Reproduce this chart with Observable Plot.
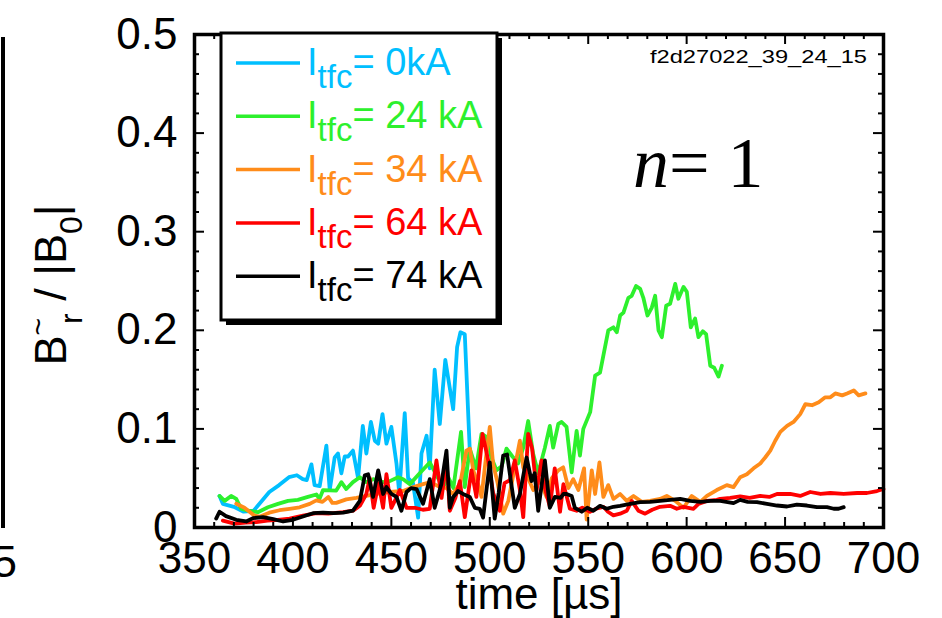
<!DOCTYPE html>
<html><head><meta charset="utf-8">
<script src="https://cdn.jsdelivr.net/npm/d3@7"></script>
<script src="https://cdn.jsdelivr.net/npm/@observablehq/plot@0.6"></script>
<style>body{margin:0;background:#fff;} svg{display:block}</style>
</head><body><div id="chart"></div>
<script>
// ---- data (time in µs, value = B~r/|B0|) ----
const xTicks = [350,400,450,500,550,600,650,700];
const yTicks = [0,0.1,0.2,0.3,0.4,0.5];
const seriesLabels = ["= 0kA","= 24 kA","= 34 kA","= 64 kA","= 74 kA"];
const seriesColors = ["#00bfff","#2df02d","#ff8c1a","#ff0000","#000000"];

const s0kA = [[362.7,.032],[364.4,.024],[370,.021],[375,.016],[380,.017],[383,.024],[388,.036],[393,.043],[398,.051],[402,.053],[405,.049],[407,.048],[409.4,.064],[411,.043],[413.6,.042],[417,.083],[418.7,.038],[421.2,.071],[422.9,.075],[424.6,.055],[426.3,.072],[428,.072],[430.5,.078],[433.1,.050],[435.5,.103],[437.3,.075],[439.6,.107],[441.6,.088],[443.3,.085],[445.5,.115],[447.5,.085],[450,.102],[452.6,.065],[454,.035],[456.8,.116],[458.5,.050],[461,.045],[463.6,.010],[465.3,.075],[467.9,.093],[469.5,.060],[472,.160],[474.6,.105],[477.4,.170],[481.4,.120],[483.4,.183],[485.1,.198],[487.3,.196],[489.8,.080]];

const s24kA = [[362.7,.032],[365.3,.027],[368.6,.032],[371.2,.029],[373.7,.019],[377.1,.017],[382.2,.0155],[387.3,.0205],[392.4,.024],[397.5,.027],[402.5,.028],[407.6,.031],[411.9,.0335],[413.5,.029],[415.3,.038],[422,.0375],[424.6,.046],[427.1,.039],[430.5,.046],[434,.051],[437.3,.046],[440.7,.049],[445.8,.046],[449.2,.047],[453.4,.051],[456,.049],[459.4,.044],[464.4,.055],[469.5,.066],[472.9,.053],[476.3,.041],[478.9,.051],[481.5,.040],[485.4,.097],[487.3,.041],[489.8,.080],[493,.060],[495.8,.095],[498.3,.092],[501,.070],[503.4,.058],[506,.062],[508.5,.080],[511.5,.072],[514.4,.065],[517,.081],[519.5,.108],[522,.075],[524.6,.055],[528,.081],[530.5,.103],[532.2,.081],[534.8,.105],[536.5,.107],[539,.102],[541.6,.056],[544.1,.098],[545.8,.073],[547.5,.100],[551,.117],[553.5,.154],[556,.157],[560.2,.200],[562.8,.203],[564.5,.198],[566.2,.215],[567.9,.218],[570.4,.233],[572.1,.235],[574.3,.245],[576.4,.242],[578,.233],[580.1,.215],[582.3,.223],[584,.235],[585.7,.200],[587.4,.193],[589.6,.225],[591.6,.227],[594.2,.247],[595.8,.232],[598.4,.244],[600.1,.239],[602.1,.203],[604.3,.212],[606,.193],[608.2,.199],[609.9,.196],[612,.164],[614,.162],[616.2,.153],[617.9,.164]];

const s34kA = [[371.2,.024],[375.4,.020],[380.5,.012],[383,.011],[388,.015],[393.2,.0175],[398.3,.019],[403.4,.0205],[408.5,.024],[411.9,.0275],[415,.026],[418,.031],[420,.025],[422,.025],[427.1,.0285],[432.2,.030],[437.3,.032],[442.4,.034],[449.2,.036],[456,.037],[461.1,.041],[466.1,.044],[470,.046],[474.6,.041],[478,.040],[481.4,.034],[485,.045],[488.1,.078],[489.9,.080],[491.6,.058],[494.1,.044],[495.8,.031],[498,.070],[500,.102],[501.7,.064],[504,.045],[506.8,.014],[509.4,.027],[512.7,.061],[515.3,.088],[517,.061],[519.5,.050],[522.1,.038],[525.5,.048],[528.8,.031],[531.5,.050],[534.8,.058],[537.3,.061],[539.9,.040],[542.4,.049],[545,.038],[547.9,.060],[549.2,.008],[551.8,.058],[553.5,.034],[555.7,.066],[557.7,.031],[560.2,.043],[562.8,.029],[566.2,.034],[569.6,.027],[573,.032],[577.2,.026],[581.4,.027],[586.5,.029],[589.9,.032],[594.2,.027],[598.4,.020],[602.6,.032],[606.9,.026],[610.3,.032],[615.3,.038],[620.4,.043],[623.8,.041],[627.2,.051],[630.6,.054],[634,.060],[637.4,.065],[639.9,.071],[642.5,.078],[645,.088],[647.6,.097],[651,.103],[654.3,.107],[657.7,.115],[660.3,.125],[663.7,.124],[667.1,.127],[670.4,.132],[673,.132],[675.5,.136],[679,.134],[681.5,.136],[684.9,.139],[687.4,.134],[690.8,.136]];

const s64kA = [[364.4,.007],[370.3,.004],[376,.005],[381.4,.0055],[387,.007],[392.4,.0078],[398.3,.009],[405.1,.012],[411.9,.0145],[418,.014],[425.5,.0155],[430.5,.017],[434,.022],[437.3,.034],[439,.050],[441,.020],[443.5,.045],[445.8,.020],[447.5,.054],[450,.020],[452.5,.030],[454.3,.038],[457.7,.020],[462,.020],[466,.018],[469.5,.019],[472.9,.068],[475.5,.030],[478,.068],[479.7,.017],[482.5,.030],[484.8,.047],[487.3,.0105],[490.7,.058],[493.2,.031],[496.3,.095],[499.2,.068],[501.7,.035],[505.1,.017],[507.5,.045],[510.2,.048],[512.7,.068],[515.3,.038],[517,.0105],[519.5,.095],[521.5,.080],[523.8,.038],[526.3,.068],[528,.040],[530.5,.021],[533,.060],[535.7,.016],[537.4,.044],[540.7,.019],[544.1,.017],[547,.020],[550.9,.016],[554,.019],[557.7,.021],[560,.016],[562.8,.0123],[566.2,.014],[569.6,.017],[572.1,.027],[575.5,.017],[578.9,.014],[582.5,.018],[586.5,.021],[591.6,.022],[595,.019],[598.4,.021],[603.5,.019],[606,.024],[610.3,.027],[615.3,.028],[617,.029],[622.1,.030],[627.2,.0315],[632,.030],[637.4,.032],[642,.031],[645.9,.034],[652.6,.034],[657.7,.032],[662.8,.036],[668,.034],[673,.035],[679.8,.034],[686.6,.035],[691.6,.035],[696.7,.037],[700,.039]];

const s74kA = [[361,.009],[362.7,.016],[366,.0115],[371.2,.0078],[376.3,.0061],[379.7,.0095],[384.8,.0105],[390,.0085],[395,.0061],[400,.0078],[405.1,.0112],[410.2,.0145],[415.3,.015],[420.4,.0145],[425.5,.015],[430.5,.0172],[434,.027],[436.5,.053],[438.2,.054],[440.7,.031],[443.3,.058],[445.8,.034],[447.5,.041],[450,.034],[452.6,.031],[455.1,.017],[457.7,.036],[460,.040],[462.8,.039],[466.1,.024],[469.5,.049],[472,.020],[475.4,.044],[478,.078],[479.7,.020],[481.4,.031],[483.9,.037],[486.4,.034],[489.8,.031],[492.4,.020],[494.9,.019],[496.6,.010],[500,.066],[502.5,.009],[504.5,.035],[506.8,.073],[508.8,.074],[510.5,.050],[512.7,.020],[515.3,.034],[518.7,.071],[521.2,.047],[522.8,.055],[524.6,.017],[528,.068],[530.5,.020],[533.1,.031],[536,.030],[537.4,.034],[539,.034],[541.6,.032],[543.2,.020],[546.7,.016],[549.5,.020],[552.6,.017],[556,.022],[559.4,.019],[562.8,.021],[566.2,.022],[571.3,.024],[576.3,.0257],[581.4,.026],[586.5,.027],[591.6,.028],[596.7,.029],[601.8,.027],[607,.026],[612,.027],[617.1,.027],[623.8,.0247],[627.2,.028],[631,.026],[635.7,.0257],[640.8,.024],[645.9,.0223],[651,.0213],[656,.0233],[661.1,.0223],[666.2,.0206],[671.3,.0206],[674.7,.019],[677.2,.019],[679.8,.0206]];

const allSeries = [s0kA, s24kA, s34kA, s64kA, s74kA];

// ---- layout ----
const W = 942, H = 618, ML = 194, MR = 59, MT = 34, MB = 91;
const PW = W - ML - MR, PH = H - MT - MB;
const FONT = "Liberation Sans, Arial, Helvetica, sans-serif";
const xMinor = d3.range(350, 701, 10).filter(v => v % 50 !== 0);
const yMinor = d3.range(0, 51, 2).filter(v => v % 10 !== 0).map(v => v / 100);
const MAJ = 10, MIN = 5;

const marks = [];
allSeries.forEach((s, i) => {
  marks.push(Plot.line(s, {x: d => d[0], y: d => d[1], stroke: seriesColors[i], strokeWidth: 3.8, strokeLinejoin: "round"}));
});
// inward ticks on all four sides
marks.push(
  Plot.tickX(xTicks, {x: d => d, insetTop: PH - MAJ, strokeWidth: 2}),
  Plot.tickX(xMinor, {x: d => d, insetTop: PH - MIN, strokeWidth: 2}),
  Plot.tickX(xTicks, {x: d => d, insetBottom: PH - MAJ, strokeWidth: 2}),
  Plot.tickX(xMinor, {x: d => d, insetBottom: PH - MIN, strokeWidth: 2}),
  Plot.tickY(yTicks, {y: d => d, insetRight: PW - MAJ, strokeWidth: 2}),
  Plot.tickY(yMinor, {y: d => d, insetRight: PW - MIN, strokeWidth: 2}),
  Plot.tickY(yTicks, {y: d => d, insetLeft: PW - MAJ, strokeWidth: 2}),
  Plot.tickY(yMinor, {y: d => d, insetLeft: PW - MIN, strokeWidth: 2}),
  Plot.text(xTicks, {x: d => d, frameAnchor: "bottom", lineAnchor: "top", dy: 14, fontSize: 44, text: d => String(d), fill: "black"}),
  Plot.text(yTicks, {y: d => d, frameAnchor: "left", textAnchor: "end", dx: -17, fontSize: 44, text: d => String(d), fill: "black"}),
  Plot.text(["time [µs]"], {frameAnchor: "bottom", lineAnchor: "top", dy: 50, fontSize: 44, fill: "black"}),
  Plot.frame({stroke: "black", strokeWidth: 3.5})
);

const chart = Plot.plot({
  width: W, height: H,
  marginLeft: ML, marginRight: MR, marginTop: MT, marginBottom: MB,
  x: {domain: [350, 700], axis: null},
  y: {domain: [0, 0.5], axis: null},
  style: {fontFamily: FONT, background: "white", overflow: "visible", color: "black"},
  marks
});
document.getElementById("chart").appendChild(chart);

const svg = d3.select(chart);
const g = svg.append("g").attr("font-family", FONT).attr("fill", "black").attr("text-anchor", "start");

// fragment of neighbouring panel on the far left
g.append("rect").attr("x", 1).attr("y", 37).attr("width", 4).attr("height", 491).attr("fill", "black");
g.append("text").attr("x", 17).attr("y", 577).attr("text-anchor", "end").attr("font-size", 44).text("5");

// y-axis title  B~_r / |B_0|
const yt = g.append("text").attr("transform", "translate(66,285) rotate(-90)")
  .attr("text-anchor", "middle").attr("font-size", 45);
yt.append("tspan").text("B");
yt.append("tspan").attr("font-size", 30).attr("dy", -18).text("~");
yt.append("tspan").attr("font-size", 32).attr("dy", 34).attr("dx", -6).text("r");
yt.append("tspan").attr("dy", -16).text(" / |B");
yt.append("tspan").attr("font-size", 32).attr("dy", 16).text("0");
yt.append("tspan").attr("dy", -16).text("|");

// run id
g.append("text").attr("x", 867).attr("y", 63).attr("text-anchor", "end")
  .attr("font-size", 18).attr("textLength", 217).attr("lengthAdjust", "spacingAndGlyphs")
  .text("f2d27022_39_24_15");

// n= 1
const nt = g.append("text").attr("x", 633).attr("y", 187).attr("font-size", 72)
  .attr("text-anchor", "start")
  .attr("font-family", "Liberation Serif, Times New Roman, serif");
nt.append("tspan").attr("font-style", "italic").text("n");
nt.append("tspan").text("= 1");

// legend box with shadow
const lg = svg.append("g").attr("font-family", FONT).attr("text-anchor", "start");
lg.append("rect").attr("x", 226).attr("y", 38).attr("width", 276).attr("height", 287).attr("fill", "black");
lg.append("rect").attr("x", 221).attr("y", 33).attr("width", 276).attr("height", 287)
  .attr("fill", "white").attr("stroke", "black").attr("stroke-width", 3);
seriesLabels.forEach((lab, i) => {
  const y = 63 + i * 53.3;
  lg.append("line").attr("x1", 236).attr("x2", 300).attr("y1", y).attr("y2", y)
    .attr("stroke", seriesColors[i]).attr("stroke-width", 3.5);
  const t = lg.append("text").attr("x", 307).attr("y", y + 12).attr("font-size", 38)
    .attr("text-anchor", "start").attr("fill", seriesColors[i]);
  t.append("tspan").text("I");
  t.append("tspan").attr("font-size", 33).attr("dy", 13).text("tfc");
  t.append("tspan").attr("dy", -13).text(lab);
});
</script>
</body></html>
